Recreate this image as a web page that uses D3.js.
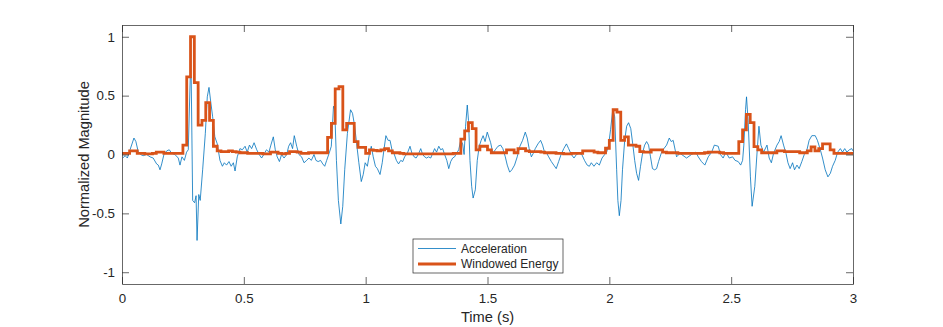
<html>
<script src='https://d3js.org/d3.v7.min.js'></script>
<style>
body { margin: 0; background: #fff; }
text { font-family: 'Liberation Sans', Arial, sans-serif; fill: #262626; }
</style>
<body onload='init()'>
<svg width=943 height=327></svg>
<script>
// acceleration trace (time in s, normalized value)
var accT = [0.003,0.013,0.022,0.033,0.049,0.057,0.067,0.076,0.087,0.101,0.115,0.128,0.142,0.149,0.156,0.163,0.172,0.183,0.194,0.204,
  0.217,0.231,0.238,0.246,0.256,0.265,0.272,0.280,0.284,0.290,0.298,0.304,0.308,0.315,0.321,0.331,0.342,0.350,0.357,0.364,
  0.372,0.381,0.391,0.402,0.412,0.420,0.429,0.439,0.448,0.457,0.464,0.473,0.484,0.494,0.505,0.514,0.523,0.532,0.542,0.553,
  0.563,0.573,0.582,0.593,0.603,0.611,0.621,0.629,0.637,0.646,0.655,0.665,0.676,0.684,0.692,0.700,0.707,0.717,0.726,0.737,
  0.747,0.758,0.767,0.777,0.788,0.796,0.805,0.815,0.824,0.832,0.840,0.850,0.859,0.868,0.873,0.880,0.888,0.898,0.906,0.914,
  0.925,0.938,0.946,0.955,0.963,0.972,0.982,0.990,0.998,1.007,1.015,1.023,1.031,1.040,1.048,1.059,1.068,1.075,1.083,1.092,
  1.100,1.108,1.116,1.126,1.135,1.144,1.152,1.160,1.171,1.182,1.190,1.199,1.207,1.216,1.226,1.234,1.242,1.250,1.258,1.267,
  1.275,1.283,1.291,1.300,1.308,1.316,1.324,1.333,1.341,1.349,1.357,1.365,1.373,1.382,1.390,1.398,1.404,1.410,1.417,1.422,
  1.428,1.435,1.441,1.450,1.458,1.466,1.474,1.482,1.490,1.499,1.513,1.522,1.532,1.543,1.554,1.563,1.573,1.581,1.591,1.600,
  1.611,1.622,1.633,1.644,1.655,1.663,1.671,1.680,1.688,1.696,1.707,1.718,1.726,1.734,1.743,1.751,1.762,1.772,1.782,1.792,
  1.802,1.813,1.824,1.833,1.844,1.855,1.865,1.876,1.887,1.898,1.909,1.918,1.926,1.937,1.948,1.959,1.970,1.981,1.989,1.997,
  2.005,2.014,2.022,2.030,2.035,2.041,2.048,2.054,2.063,2.071,2.079,2.088,2.096,2.104,2.112,2.120,2.128,2.137,2.145,2.153,
  2.161,2.169,2.177,2.186,2.194,2.202,2.213,2.224,2.235,2.246,2.254,2.262,2.276,2.290,2.317,2.337,2.355,2.365,2.378,2.392,
  2.406,2.420,2.431,2.447,2.456,2.467,2.478,2.492,2.506,2.516,2.529,2.539,2.547,2.552,2.559,2.563,2.570,2.579,2.586,2.597,
  2.607,2.614,2.622,2.633,2.647,2.656,2.665,2.674,2.688,2.697,2.705,2.715,2.725,2.733,2.742,2.752,2.760,2.770,2.779,2.790,
  2.800,2.811,2.820,2.831,2.845,2.854,2.866,2.875,2.886,2.897,2.907,2.916,2.927,2.937,2.948,2.957,2.966,2.975,2.985,2.995,3.0];
var accV = [-0.03,-0.01,-0.03,0.04,0.14,0.11,0.02,0.00,-0.01,0.00,-0.02,-0.03,-0.08,-0.09,-0.13,-0.08,0.00,0.03,0.04,0.01,
  0.00,-0.03,-0.09,-0.02,-0.05,0.02,0.04,0.65,0.66,-0.39,-0.41,-0.35,-0.73,-0.34,-0.39,-0.13,0.18,0.49,0.57,0.45,
  0.32,0.15,0.09,-0.05,-0.10,-0.07,-0.09,-0.06,-0.10,-0.07,-0.14,-0.02,0.05,0.04,0.07,0.02,0.08,0.05,0.10,0.04,
  0.00,-0.03,0.00,0.04,0.02,0.08,0.15,0.04,-0.02,-0.06,0.00,-0.03,0.00,0.07,0.10,0.05,0.16,0.07,0.00,-0.02,
  -0.07,-0.05,-0.03,-0.05,0.00,-0.05,-0.06,-0.05,-0.08,-0.10,-0.05,0.01,0.07,0.41,0.38,-0.05,-0.39,-0.59,-0.44,-0.13,
  0.18,0.38,0.35,0.24,0.09,-0.07,-0.23,-0.17,-0.07,-0.10,0.00,0.07,-0.02,-0.10,-0.12,-0.17,-0.07,0.04,0.16,0.12,
  0.12,0.04,0.01,-0.05,-0.08,-0.05,-0.06,-0.02,0.01,0.07,0.01,-0.02,-0.03,0.00,0.05,0.00,-0.02,-0.03,-0.02,-0.03,
  0.01,0.05,0.02,0.07,0.04,0.05,0.00,-0.05,-0.12,-0.06,-0.03,-0.02,0.01,0.04,0.12,0.09,0.00,0.24,0.42,0.29,
  -0.05,-0.27,-0.37,-0.30,-0.05,0.07,0.12,0.16,0.11,0.19,0.10,0.01,0.04,0.07,0.08,0.05,-0.02,-0.09,-0.15,-0.13,
  -0.09,-0.02,0.07,0.12,0.19,0.14,0.05,-0.02,0.01,0.05,0.09,0.12,0.08,0.02,0.01,-0.02,-0.06,-0.09,-0.12,-0.06,
  0.00,0.05,0.09,0.05,0.00,-0.03,0.00,0.01,0.00,-0.05,-0.09,-0.10,-0.07,-0.10,-0.07,-0.09,-0.03,0.00,0.02,0.08,
  0.21,0.38,0.32,-0.13,-0.39,-0.52,-0.39,-0.13,0.12,0.24,0.27,0.22,0.09,-0.05,-0.16,-0.22,-0.10,0.02,0.08,0.11,
  0.08,-0.02,-0.12,-0.13,-0.12,-0.06,0.01,0.05,0.08,0.14,0.11,0.12,-0.02,0.01,-0.03,0.00,0.02,-0.02,-0.06,-0.09,
  -0.02,0.02,0.08,0.07,0.00,-0.03,0.02,-0.03,-0.02,-0.05,-0.06,-0.09,-0.05,0.08,0.38,0.49,0.27,-0.19,-0.44,-0.27,
  0.04,0.24,0.08,0.02,0.08,-0.03,-0.07,0.01,0.08,0.11,0.16,0.08,0.01,-0.07,-0.12,-0.07,-0.13,-0.09,-0.12,-0.06,
  0.00,0.04,0.12,0.16,0.16,0.12,0.04,-0.03,-0.13,-0.19,-0.16,-0.10,-0.05,0.02,0.05,0.02,0.05,0.02,0.04,0.05,0.03];

// windowed energy, one value per 1/64 s window
var winLen = 1 / 64;
var energy = [
  0.01,0.01,0.03,0.03,0.01,0.01,0.005,0.005,0.01,0.02,0.02,0.01,0.01,0.01,0.01,0.01,
  0.08,0.66,1.0,0.61,0.25,0.29,0.44,0.29,0.07,0.03,
  0.025,0.025,0.03,0.025,0.02,0.015,0.015,0.01,0.01,0.01,0.01,0.005,0.005,0.02,0.02,0.01,0.005,0.01,0.025,0.025,0.02,0.01,
  0.01,0.015,0.015,0.015,0.015,0.015,0.146,0.265,0.557,0.577,0.21,0.265,0.265,0.11,0.06,0.06,0.01,
  0.04,0.035,0.03,0.04,0.05,0.03,0.015,0.015,0.01,
  0.005,0.005,0.005,0.005,0.005,0.005,0.005,0.005,0.005,0.005,0.005,0.005,0.005,0.01,0.01,
  0.13,0.20,0.27,0.22,0.04,0.07,0.07,0.04,
  0.015,0.015,0.015,0.015,0.04,0.04,0.015,0.05,0.05,0.03,0.025,0.025,0.025,0.02,0.015,0.015,0.015,0.01,0.01,0.005,
  0.005,0.01,0.01,0.01,0.03,0.03,0.03,0.02,0.015,0.015,
  0.053,0.12,0.38,0.36,0.12,0.15,0.08,0.08,0.07,0.025,0.02,0.02,0.04,0.04,0.04,0.02,0.015,0.015,0.015,
  0.01,0.01,0.01,0.01,0.01,0.01,0.01,0.015,0.02,0.02,0.02,0.015,0.01,0.01,0.01,0.01,
  0.11,0.21,0.34,0.27,0.067,0.04,0.015,0.015,0.015,0.015,0.03,0.03,0.025,0.025,0.025,0.025,0.015,0.015,0.03,0.065,
  0.03,0.05,0.09,0.09,0.04,0.01,0.01,0.01,0.01,0.01];

var xTicks = [0, 0.5, 1, 1.5, 2, 2.5, 3];
var xTickLabels = ['0', '0.5', '1', '1.5', '2', '2.5', '3'];
var yTicks = [-1, -0.5, 0, 0.5, 1];
var yTickLabels = ['-1', '-0.5', '0', '0.5', '1'];
var seriesNames = ['Acceleration', 'Windowed Energy'];
var seriesColors = ['#0072BD', '#D95319'];

function init() {
  var svg = d3.select('svg');
  var left = 122, right = 853, top = 25, bottom = 284;

  var x = d3.scaleLinear([0, 3], [left, right]);
  var y = d3.scaleLinear([-1.1, 1.1], [bottom, top]);

  // acceleration
  var acc = accT.map((t, i) => [t, accV[i]]);
  svg.append('path')
    .datum(acc)
    .attr('fill', 'none')
    .attr('stroke', seriesColors[0])
    .attr('stroke-width', 0.8)
    .attr('stroke-linejoin', 'round')
    .attr('d', d3.line().x(d => x(d[0])).y(d => y(d[1])));

  // energy stairs
  var en = energy.map((e, k) => [k * winLen, e]);
  en.push([energy.length * winLen, energy[energy.length - 1]]);
  svg.append('path')
    .datum(en)
    .attr('fill', 'none')
    .attr('stroke', seriesColors[1])
    .attr('stroke-width', 2.8)
    .attr('d', d3.line().curve(d3.curveStepAfter).x(d => x(d[0])).y(d => y(d[1])));

  // axes, ticks inward on all four sides
  var fmtX = d => xTickLabels[xTicks.indexOf(d)];
  var fmtY = d => yTickLabels[yTicks.indexOf(d)];

  var gx = svg.append('g').attr('transform', 'translate(0,' + bottom + ')')
    .call(d3.axisBottom(x).tickValues(xTicks).tickFormat(fmtX).tickSizeInner(-7).tickSizeOuter(0).tickPadding(10));
  var gxt = svg.append('g').attr('transform', 'translate(0,' + top + ')')
    .call(d3.axisTop(x).tickValues(xTicks).tickFormat('').tickSizeInner(-7).tickSizeOuter(0));
  var gy = svg.append('g').attr('transform', 'translate(' + left + ',0)')
    .call(d3.axisLeft(y).tickValues(yTicks).tickFormat(fmtY).tickSizeInner(-7).tickSizeOuter(0).tickPadding(7));
  var gyr = svg.append('g').attr('transform', 'translate(' + right + ',0)')
    .call(d3.axisRight(y).tickValues(yTicks).tickFormat('').tickSizeInner(-7).tickSizeOuter(0));

  [gx, gxt, gy, gyr].forEach(g => {
    g.selectAll('path, line').attr('stroke', '#262626').attr('stroke-width', 0.7);
    g.selectAll('text').attr('fill', '#262626').style('font-size', '13.33px')
      .style('font-family', "'Liberation Sans', Arial, sans-serif");
  });

  svg.append('text')
    .attr('x', (left + right) / 2).attr('y', 322)
    .attr('text-anchor', 'middle')
    .style('font-size', '14.67px')
    .text('Time (s)');

  svg.append('text')
    .attr('transform', 'translate(89,' + (top + bottom) / 2 + ') rotate(-90)')
    .attr('text-anchor', 'middle')
    .style('font-size', '14.67px')
    .text('Normalized Magnitude');

  // legend
  var lg = svg.append('g').attr('transform', 'translate(413,239)');
  lg.append('rect').attr('width', 150).attr('height', 34)
    .attr('fill', '#fff').attr('stroke', '#262626').attr('stroke-width', 0.7);
  seriesNames.forEach((name, i) => {
    var cy = 9.5 + i * 15.5;
    lg.append('line').attr('x1', 5).attr('x2', 43).attr('y1', cy).attr('y2', cy)
      .attr('stroke', seriesColors[i]).attr('stroke-width', i ? 2.8 : 0.8);
    lg.append('text').attr('x', 48).attr('y', cy + 4.3)
      .style('font-size', '12px').text(name);
  });
}
</script>
</body>
</html>
